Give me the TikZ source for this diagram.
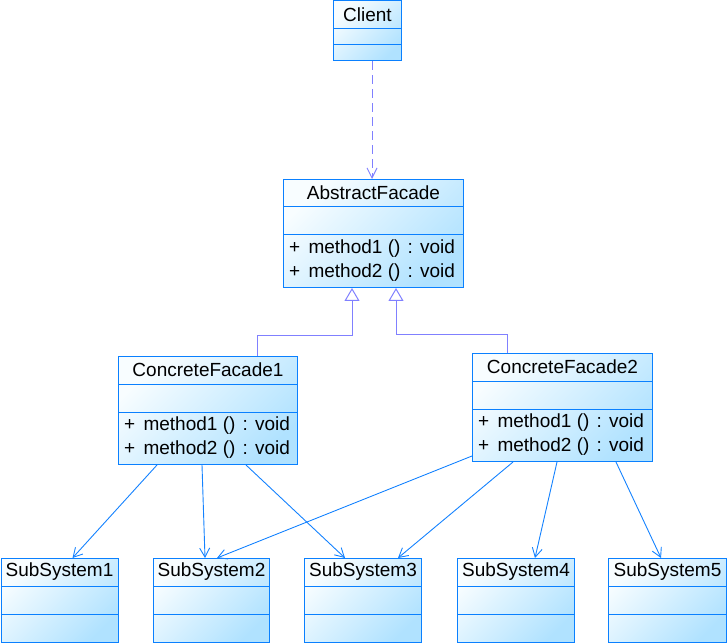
\documentclass[tikz,border=0pt]{standalone}
\usepackage{fontspec}
\setmainfont{Liberation Sans}
\usetikzlibrary{arrows.meta, calc}
\definecolor{BoxBlue}{RGB}{10, 128, 255}
\definecolor{LinkBlue}{RGB}{20, 130, 255}
\definecolor{InheritBlue}{RGB}{128, 128, 255}
\definecolor{FillLight}{RGB}{248, 253, 255}
\definecolor{FillDark}{RGB}{176, 226, 255}

\tikzset{
  classbox/.style={draw=BoxBlue, line width=1pt, top color=FillLight, bottom color=FillDark,
    shading angle=45, inner sep=0pt, anchor=north west},
  classsep/.style={draw=BoxBlue, line width=1pt},
  classname/.style={inner sep=0pt, anchor=center},
  methodline/.style={inner sep=0pt, anchor=west},
  assoc/.style={draw=LinkBlue, line width=0.9pt, -{Straight Barb[length=9pt, width=10pt]}},
  inherit/.style={draw=InheritBlue, line width=1pt, -{Triangle[open, length=13pt, width=15pt]}},
  depend/.style={draw=InheritBlue, line width=1pt, dash pattern=on 9pt off 5pt,
    -{Straight Barb[length=10pt, width=10pt]}}
}

% name, x, y, width, height, title, second separator
\newcommand{\umlclass}[7]{%
  \node[classbox, minimum width=#4pt, minimum height=#5pt] (#1) at (#2,#3) {};
  \draw[classsep] ([yshift=-28pt]#1.north west) -- ([yshift=-28pt]#1.north east);
  \draw[classsep] ([yshift=-#7pt]#1.north west) -- ([yshift=-#7pt]#1.north east);
  \node[classname] at ([yshift=-14pt]#1.north) {#6};
}
\newcommand{\umlmethods}[1]{%
  \node[methodline] at ([xshift=6pt, yshift=-70pt]#1.north west) {+\hspace{3pt} method1 ()\hspace{2pt} : void};
  \node[methodline] at ([xshift=6pt, yshift=-94pt]#1.north west) {+\hspace{3pt} method2 ()\hspace{2pt} : void};
}

\begin{document}
\begin{tikzpicture}[x=1pt, y=-1pt, font=\fontsize{19}{23}\selectfont]
\useasboundingbox (0,0) rectangle (728,644);

% classes
\umlclass{client}{333}{0.5}{68}{60}{Client}{44}
\umlclass{af}{283}{179}{180}{108}{AbstractFacade}{56}
\umlmethods{af}
\umlclass{cf1}{118}{356}{179}{108}{ConcreteFacade1}{56}
\umlmethods{cf1}
\umlclass{cf2}{472}{353}{180}{108}{ConcreteFacade2}{56}
\umlmethods{cf2}
\foreach \n/\x/\w in {1/0.5/117, 2/153/116, 3/304/117, 4/457/117, 5/608/118}
  \umlclass{ss\n}{\x}{558}{\w}{84}{SubSystem\n}{56};

% client uses facade
\draw[depend] ([xshift=39pt]client.south west) -- ([xshift=89pt]af.north west);

% generalization
\draw[inherit] ([xshift=139pt]cf1.north west) -- ++(0,-21) -| ([xshift=69pt]af.south west);
\draw[inherit] ([xshift=35pt]cf2.north west) -- ++(0,-19) -| ([xshift=113pt]af.south west);

% associations
\draw[assoc] ([xshift=39pt]cf1.south west) -- ([xshift=72pt]ss1.north west);
\draw[assoc] ([xshift=84pt]cf1.south west) -- ([xshift=52pt]ss2.north west);
\draw[assoc] ([xshift=128pt]cf1.south west) -- ([xshift=41pt]ss3.north west);
\draw[assoc] ([yshift=6pt]cf2.south west) -- ([xshift=64pt]ss2.north west);
\draw[assoc] ([xshift=41pt]cf2.south west) -- ([xshift=94pt]ss3.north west);
\draw[assoc] ([xshift=85pt]cf2.south west) -- ([xshift=78pt]ss4.north west);
\draw[assoc] ([xshift=144pt]cf2.south west) -- ([xshift=53pt]ss5.north west);
\end{tikzpicture}
\end{document}
